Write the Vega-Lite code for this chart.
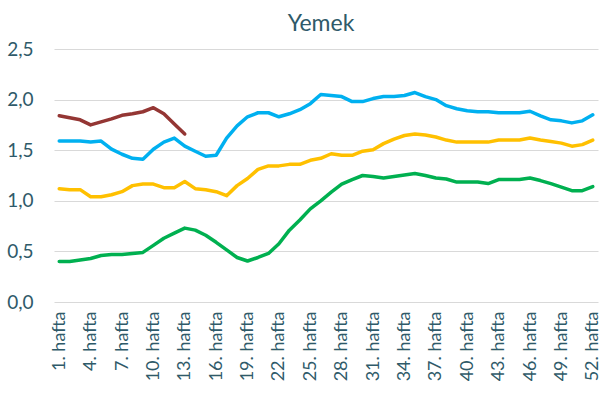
{
  "$schema": "https://vega.github.io/schema/vega-lite/v6.json",
  "width": 544,
  "height": 253,
  "autosize": "none",
  "padding": {"left": 54, "top": 49, "right": 4, "bottom": 99},
  "background": "white",
  "title": {"text": "Yemek", "fontSize": 23, "font": "Lato", "fontWeight": "normal", "color": "#2F5A69", "baseline": "bottom", "offset": -19, "dx": -5},
  "data": {
    "values": [
      {"week":1,"series":"A","value":1.59},{"week":2,"series":"A","value":1.59},{"week":3,"series":"A","value":1.59},{"week":4,"series":"A","value":1.58},{"week":5,"series":"A","value":1.59},{"week":6,"series":"A","value":1.51},{"week":7,"series":"A","value":1.46},{"week":8,"series":"A","value":1.42},{"week":9,"series":"A","value":1.41},{"week":10,"series":"A","value":1.51},{"week":11,"series":"A","value":1.58},{"week":12,"series":"A","value":1.62},{"week":13,"series":"A","value":1.54},{"week":14,"series":"A","value":1.49},{"week":15,"series":"A","value":1.44},{"week":16,"series":"A","value":1.45},{"week":17,"series":"A","value":1.62},{"week":18,"series":"A","value":1.74},{"week":19,"series":"A","value":1.83},{"week":20,"series":"A","value":1.87},{"week":21,"series":"A","value":1.87},{"week":22,"series":"A","value":1.83},{"week":23,"series":"A","value":1.86},{"week":24,"series":"A","value":1.90},{"week":25,"series":"A","value":1.96},{"week":26,"series":"A","value":2.05},{"week":27,"series":"A","value":2.04},{"week":28,"series":"A","value":2.03},{"week":29,"series":"A","value":1.98},{"week":30,"series":"A","value":1.98},{"week":31,"series":"A","value":2.01},{"week":32,"series":"A","value":2.03},{"week":33,"series":"A","value":2.03},{"week":34,"series":"A","value":2.04},{"week":35,"series":"A","value":2.07},{"week":36,"series":"A","value":2.03},{"week":37,"series":"A","value":2.00},{"week":38,"series":"A","value":1.94},{"week":39,"series":"A","value":1.91},{"week":40,"series":"A","value":1.89},{"week":41,"series":"A","value":1.88},{"week":42,"series":"A","value":1.88},{"week":43,"series":"A","value":1.87},{"week":44,"series":"A","value":1.87},{"week":45,"series":"A","value":1.87},{"week":46,"series":"A","value":1.885},{"week":47,"series":"A","value":1.84},{"week":48,"series":"A","value":1.80},{"week":49,"series":"A","value":1.79},{"week":50,"series":"A","value":1.77},{"week":51,"series":"A","value":1.79},{"week":52,"series":"A","value":1.85},
      {"week":1,"series":"B","value":1.12},{"week":2,"series":"B","value":1.11},{"week":3,"series":"B","value":1.11},{"week":4,"series":"B","value":1.04},{"week":5,"series":"B","value":1.04},{"week":6,"series":"B","value":1.06},{"week":7,"series":"B","value":1.09},{"week":8,"series":"B","value":1.15},{"week":9,"series":"B","value":1.165},{"week":10,"series":"B","value":1.165},{"week":11,"series":"B","value":1.13},{"week":12,"series":"B","value":1.13},{"week":13,"series":"B","value":1.19},{"week":14,"series":"B","value":1.12},{"week":15,"series":"B","value":1.11},{"week":16,"series":"B","value":1.09},{"week":17,"series":"B","value":1.05},{"week":18,"series":"B","value":1.15},{"week":19,"series":"B","value":1.22},{"week":20,"series":"B","value":1.31},{"week":21,"series":"B","value":1.345},{"week":22,"series":"B","value":1.345},{"week":23,"series":"B","value":1.36},{"week":24,"series":"B","value":1.36},{"week":25,"series":"B","value":1.40},{"week":26,"series":"B","value":1.42},{"week":27,"series":"B","value":1.465},{"week":28,"series":"B","value":1.45},{"week":29,"series":"B","value":1.45},{"week":30,"series":"B","value":1.49},{"week":31,"series":"B","value":1.505},{"week":32,"series":"B","value":1.565},{"week":33,"series":"B","value":1.61},{"week":34,"series":"B","value":1.645},{"week":35,"series":"B","value":1.66},{"week":36,"series":"B","value":1.65},{"week":37,"series":"B","value":1.63},{"week":38,"series":"B","value":1.60},{"week":39,"series":"B","value":1.58},{"week":40,"series":"B","value":1.58},{"week":41,"series":"B","value":1.58},{"week":42,"series":"B","value":1.58},{"week":43,"series":"B","value":1.60},{"week":44,"series":"B","value":1.60},{"week":45,"series":"B","value":1.60},{"week":46,"series":"B","value":1.62},{"week":47,"series":"B","value":1.60},{"week":48,"series":"B","value":1.585},{"week":49,"series":"B","value":1.57},{"week":50,"series":"B","value":1.54},{"week":51,"series":"B","value":1.555},{"week":52,"series":"B","value":1.60},
      {"week":1,"series":"C","value":0.40},{"week":2,"series":"C","value":0.40},{"week":3,"series":"C","value":0.415},{"week":4,"series":"C","value":0.43},{"week":5,"series":"C","value":0.46},{"week":6,"series":"C","value":0.47},{"week":7,"series":"C","value":0.47},{"week":8,"series":"C","value":0.48},{"week":9,"series":"C","value":0.49},{"week":10,"series":"C","value":0.56},{"week":11,"series":"C","value":0.63},{"week":12,"series":"C","value":0.68},{"week":13,"series":"C","value":0.73},{"week":14,"series":"C","value":0.71},{"week":15,"series":"C","value":0.66},{"week":16,"series":"C","value":0.59},{"week":17,"series":"C","value":0.515},{"week":18,"series":"C","value":0.44},{"week":19,"series":"C","value":0.405},{"week":20,"series":"C","value":0.44},{"week":21,"series":"C","value":0.48},{"week":22,"series":"C","value":0.575},{"week":23,"series":"C","value":0.71},{"week":24,"series":"C","value":0.81},{"week":25,"series":"C","value":0.92},{"week":26,"series":"C","value":1.00},{"week":27,"series":"C","value":1.085},{"week":28,"series":"C","value":1.165},{"week":29,"series":"C","value":1.21},{"week":30,"series":"C","value":1.25},{"week":31,"series":"C","value":1.24},{"week":32,"series":"C","value":1.225},{"week":33,"series":"C","value":1.24},{"week":34,"series":"C","value":1.255},{"week":35,"series":"C","value":1.27},{"week":36,"series":"C","value":1.25},{"week":37,"series":"C","value":1.225},{"week":38,"series":"C","value":1.215},{"week":39,"series":"C","value":1.185},{"week":40,"series":"C","value":1.185},{"week":41,"series":"C","value":1.185},{"week":42,"series":"C","value":1.17},{"week":43,"series":"C","value":1.21},{"week":44,"series":"C","value":1.21},{"week":45,"series":"C","value":1.21},{"week":46,"series":"C","value":1.225},{"week":47,"series":"C","value":1.20},{"week":48,"series":"C","value":1.17},{"week":49,"series":"C","value":1.135},{"week":50,"series":"C","value":1.10},{"week":51,"series":"C","value":1.10},{"week":52,"series":"C","value":1.14},
      {"week":1,"series":"D","value":1.84},{"week":2,"series":"D","value":1.82},{"week":3,"series":"D","value":1.80},{"week":4,"series":"D","value":1.75},{"week":5,"series":"D","value":1.78},{"week":6,"series":"D","value":1.81},{"week":7,"series":"D","value":1.845},{"week":8,"series":"D","value":1.86},{"week":9,"series":"D","value":1.88},{"week":10,"series":"D","value":1.92},{"week":11,"series":"D","value":1.86},{"week":12,"series":"D","value":1.76},{"week":13,"series":"D","value":1.66}
    ]
  },
  "mark": {"type": "line", "strokeWidth": 3.5, "strokeCap": "round", "strokeJoin": "round"},
  "encoding": {
    "x": {
      "field": "week", "type": "quantitative",
      "scale": {"domain": [0.5, 52.5], "nice": false, "zero": false},
      "axis": {
        "values": [1,4,7,10,13,16,19,22,25,28,31,34,37,40,43,46,49,52],
        "labelExpr": "datum.value + '. hafta'",
        "labelAngle": -90, "labelAlign": "right", "labelBaseline": "middle",
        "labelFont": "Lato", "labelFontSize": 18, "labelColor": "#2F5A69",
        "labelPadding": 9, "labelOverlap": false,
        "grid": false, "domain": false, "ticks": false, "title": null
      }
    },
    "y": {
      "field": "value", "type": "quantitative",
      "scale": {"domain": [0, 2.5], "nice": false},
      "axis": {
        "values": [0, 0.5, 1, 1.5, 2, 2.5],
        "labelExpr": "replace(format(datum.value, '.1f'), '.', ',')",
        "labelFont": "Lato", "labelFontSize": 19, "labelColor": "#2F5A69",
        "labelPadding": 21, "grid": true, "gridColor": "#D9D9D9", "gridWidth": 1,
        "domain": false, "ticks": false, "title": null
      }
    },
    "color": {
      "field": "series", "type": "nominal",
      "scale": {"domain": ["A", "B", "C", "D"], "range": ["#00B0F0", "#FFC000", "#00B050", "#943634"]},
      "legend": null
    }
  },
  "config": {"view": {"stroke": null}}
}
